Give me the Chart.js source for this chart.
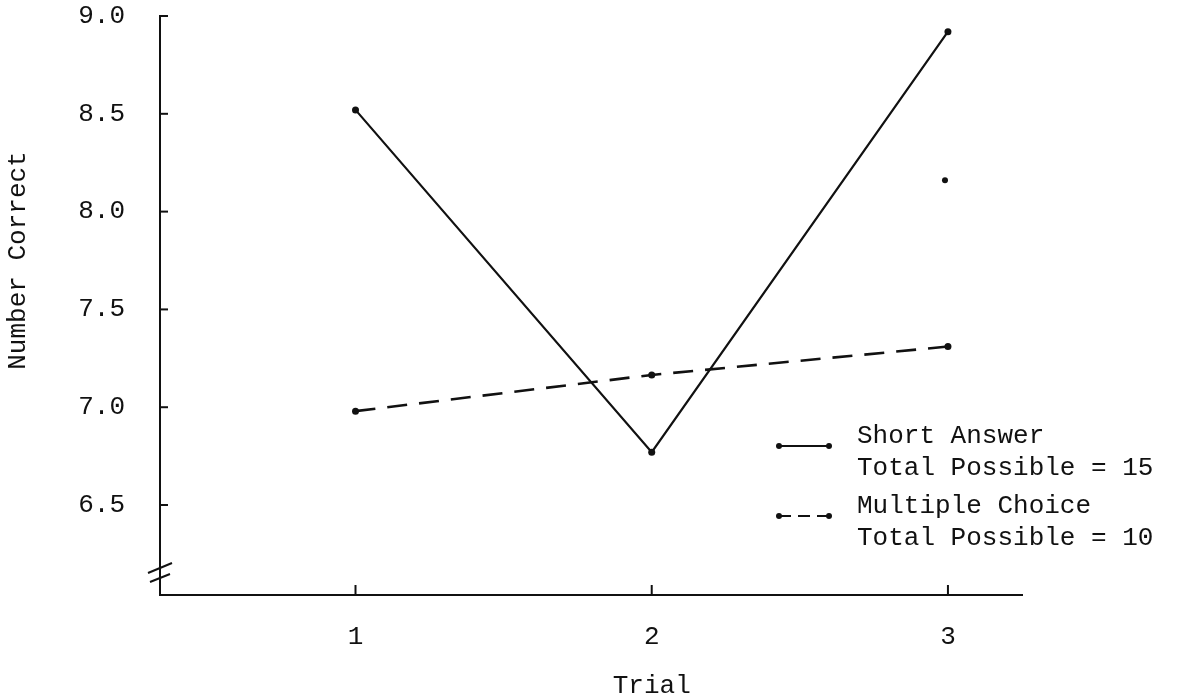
<!DOCTYPE html>
<html>
<head>
<meta charset="utf-8">
<script src="https://cdn.jsdelivr.net/npm/chart.js@4.4.0/dist/chart.umd.min.js"></script>
<style>
  html, body { margin: 0; padding: 0; background: #fff; }
  #wrap { width: 1183px; height: 700px; }
</style>
</head>
<body>
<div id="wrap"><canvas id="trialChart"></canvas></div>
<script>
// data
const trials = [1, 2, 3];
const shortAnswer = [8.52, 6.77, 8.92];
const multipleChoice = [6.98, 7.165, 7.31];
const strayMark = [{ x: 2.99, y: 8.16 }];   // loose dot on the original scan
const yTicks = [6.5, 7.0, 7.5, 8.0, 8.5, 9.0];
const seriesLabels = [
  ['Short Answer', 'Total Possible = 15'],
  ['Multiple Choice', 'Total Possible = 10']
];
const xTitle = 'Trial';
const yTitle = 'Number Correct';

const FONT = "'Liberation Mono', 'DejaVu Sans Mono', monospace";
const INK = '#111';

// inward tick marks, axis break, axis titles and the two-line legend
const decorations = {
  id: 'decorations',
  afterDraw(chart) {
    const { ctx, chartArea, scales } = chart;
    const x = scales.x, y = scales.y;
    ctx.save();
    ctx.strokeStyle = INK;
    ctx.fillStyle = INK;
    ctx.lineWidth = 2;

    yTicks.forEach(v => {
      const py = y.getPixelForValue(v);
      ctx.beginPath();
      ctx.moveTo(chartArea.left, py);
      ctx.lineTo(chartArea.left + 8, py);
      ctx.stroke();
    });
    trials.forEach(t => {
      const px = x.getPixelForValue(t);
      ctx.beginPath();
      ctx.moveTo(px, chartArea.bottom);
      ctx.lineTo(px, chartArea.bottom - 10);
      ctx.stroke();
    });

    // axis break
    const bx = chartArea.left, by = chartArea.bottom;
    ctx.beginPath();
    ctx.moveTo(bx - 12, by - 22); ctx.lineTo(bx + 12, by - 32);
    ctx.moveTo(bx - 10, by - 13); ctx.lineTo(bx + 10, by - 21);
    ctx.stroke();

    ctx.font = '26px ' + FONT;
    ctx.textBaseline = 'middle';

    // axis titles (the original puts "Trial" under the middle trial)
    ctx.textAlign = 'center';
    ctx.fillText(xTitle, x.getPixelForValue(2), 686);
    ctx.save();
    ctx.translate(18, y.getPixelForValue(7.75));
    ctx.rotate(-Math.PI / 2);
    ctx.font = '26px ' + FONT;
    ctx.fillText(yTitle, 0, 0);
    ctx.restore();

    // legend
    const rows = [
      { y: 446, dash: [], text: seriesLabels[0] },
      { y: 516, dash: [12, 7], text: seriesLabels[1] }
    ];
    ctx.textAlign = 'left';
    rows.forEach(r => {
      ctx.setLineDash(r.dash);
      ctx.beginPath();
      ctx.moveTo(779, r.y);
      ctx.lineTo(829, r.y);
      ctx.stroke();
      ctx.setLineDash([]);
      [779, 829].forEach(px => {
        ctx.beginPath();
        ctx.arc(px, r.y, 3, 0, Math.PI * 2);
        ctx.fill();
      });
      ctx.fillText(r.text[0], 857, r.y - 10);
      ctx.fillText(r.text[1], 857, r.y + 22);
    });
    ctx.restore();
  }
};

const chart = new Chart(document.getElementById('trialChart'), {
  type: 'line',
  data: {
    datasets: [{
      label: seriesLabels[0].join(', '),
      data: trials.map((t, i) => ({ x: t, y: shortAnswer[i] })),
      borderColor: INK,
      backgroundColor: INK,
      borderWidth: 2.2,
      pointRadius: 3.5,
      pointBorderWidth: 0,
      tension: 0
    }, {
      label: seriesLabels[1].join(', '),
      data: trials.map((t, i) => ({ x: t, y: multipleChoice[i] })),
      borderColor: INK,
      backgroundColor: INK,
      borderWidth: 2.6,
      borderDash: [20, 12],
      pointRadius: 3.5,
      pointBorderWidth: 0,
      tension: 0
    }, {
      label: 'mark',
      type: 'scatter',
      data: strayMark,
      backgroundColor: INK,
      pointRadius: 3,
      pointBorderWidth: 0
    }]
  },
  options: {
    responsive: true,
    maintainAspectRatio: false,
    animation: false,
    layout: { padding: { left: 0, top: 16, right: 161, bottom: 0 } },
    scales: {
      x: {
        type: 'linear',
        min: 0.34,
        max: 3.25,
        afterFit: s => { s.height = 105; s.paddingLeft = 0; s.paddingRight = 0; },
        afterBuildTicks: s => { s.ticks = trials.map(v => ({ value: v })); },
        grid: { display: false, drawTicks: false },
        border: { display: true, color: INK, width: 2 },
        ticks: {
          padding: 27,
          color: INK,
          font: { family: FONT, size: 26 },
          callback: v => String(v)
        }
      },
      y: {
        min: 6.04,
        max: 9.0,
        afterFit: s => { s.width = 160; s.paddingTop = 0; s.paddingBottom = 0; },
        afterBuildTicks: s => { s.ticks = yTicks.map(v => ({ value: v })); },
        grid: { display: false, drawTicks: false },
        border: { display: true, color: INK, width: 2 },
        ticks: {
          padding: 35,
          color: INK,
          font: { family: FONT, size: 26 },
          callback: v => Number(v).toFixed(1)
        }
      }
    },
    plugins: {
      legend: { display: false },
      tooltip: { enabled: false }
    }
  },
  plugins: [decorations]
});
</script>
</body>
</html>
